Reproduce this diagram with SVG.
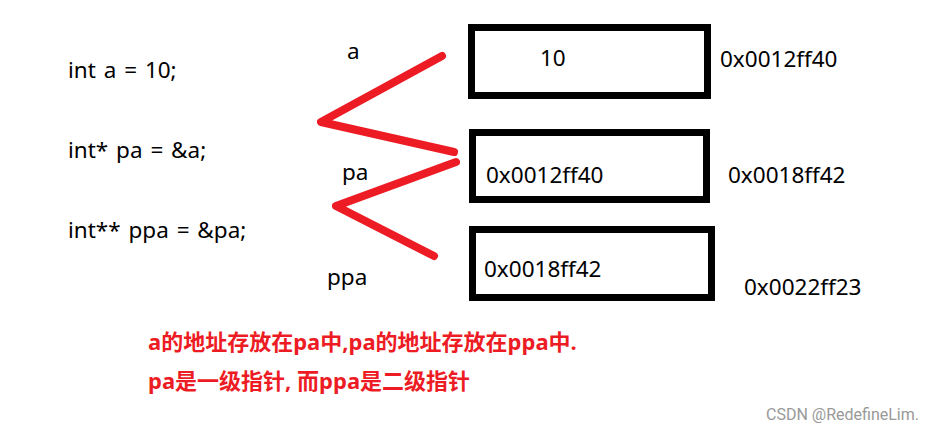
<svg xmlns="http://www.w3.org/2000/svg" width="947" height="433" viewBox="0 0 947 433">
<style>
.t{font-family:"Noto Sans","Open Sans",sans-serif;font-size:22.5px;fill:#000}
.code{word-spacing:2px}
.box{fill:none;stroke:#000;stroke-width:7}
.red{fill:none;stroke:#ED1C24;stroke-width:8;stroke-linecap:round;stroke-linejoin:round}
.note{font-family:"Noto Sans","Noto Sans CJK SC",sans-serif;font-size:22px;font-weight:bold;fill:#ED1C24}
</style>
<rect width="947" height="433" fill="#fff"/>
<g id="code">
<text class="t code" x="68" y="78">int a = 10;</text>
<text class="t code" x="68" y="158">int* pa = &amp;a;</text>
<text class="t code" x="68" y="238">int** ppa = &amp;pa;</text>
</g>
<g id="labels">
<text class="t" x="347" y="59">a</text>
<text class="t" x="342" y="180">pa</text>
<text class="t" x="327" y="285">ppa</text>
</g>
<g id="box-a">
<rect class="box" x="471.5" y="27.5" width="236" height="68"/>
<text class="t" x="540" y="66">10</text>
<text class="t" x="720" y="67">0x0012ff40</text>
</g>
<g id="box-pa">
<rect class="box" x="472.5" y="132.5" width="234" height="67"/>
<text class="t" x="486" y="183">0x0012ff40</text>
<text class="t" x="728" y="183">0x0018ff42</text>
</g>
<g id="box-ppa">
<rect class="box" x="472.5" y="229.5" width="239" height="68"/>
<text class="t" x="484" y="277">0x0018ff42</text>
<text class="t" x="744" y="295">0x0022ff23</text>
</g>
<g id="connectors">
<polyline class="red" points="442,56 321,122 454,152"/>
<polyline class="red" points="456,162 336,206 434,256"/>
</g>
<g id="notes">
<text class="note" x="148" y="350">a的地址存放在pa中,pa的地址存放在ppa中.</text>
<text class="note" x="148" y="389">pa是一级指针, 而ppa是二级指针</text>
<text x="766" y="420" font-family="Roboto,'Noto Sans',sans-serif" font-size="16" fill="#999">CSDN @RedefineLim.</text>
</g>
</svg>
